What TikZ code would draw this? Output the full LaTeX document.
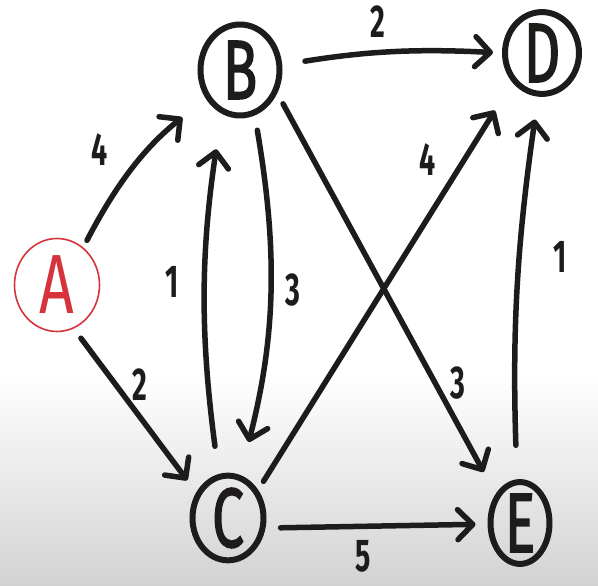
\documentclass[tikz,border=0pt]{standalone}
\usepackage{fontspec}
\usepackage{graphicx}
\setmainfont{Fira Sans}
\newfontfamily\letfont{Fira Sans}[FakeBold=2]
\newfontfamily\thinfont{Fira Sans}
\usetikzlibrary{shapes.geometric,arrows.meta}
\definecolor{ink}{HTML}{1E1B1B}
\definecolor{redink}{HTML}{D6333C}
\newcommand{\vlet}[1]{\letfont\fontsize{84}{84}\selectfont\scalebox{0.68}[1]{#1}}
\newcommand{\alet}[1]{\thinfont\fontsize{84}{84}\selectfont\scalebox{0.72}[1]{#1}}
\newcommand{\wlab}[1]{\fontsize{46}{46}\selectfont\bfseries\scalebox{0.62}[1]{#1}}
\begin{document}
\begin{tikzpicture}[x=1pt,y=1pt,
  vtx/.style={ellipse, draw=ink, text=ink, line width=6pt, inner sep=0pt},
  edge/.style={draw=ink, line width=5.5pt, line cap=round, line join=round,
    -{Straight Barb[length=15pt,width=30pt,round]}},
  wl/.style={text=ink, inner sep=0pt}]
\fill[white] (0,0) rectangle (598,586);
\shade[top color=white, bottom color=gray!35] (0,0) rectangle (598,210);
\useasboundingbox (0,0) rectangle (598,586);

\node[vtx, draw=redink, text=redink, line width=1.6pt, minimum width=85pt, minimum height=93pt] (A) at (57,301) {\alet{A}};
\node[vtx, minimum width=79pt, minimum height=91pt] (B) at (240,516) {\vlet{B}};
\node[vtx, minimum width=74pt, minimum height=76pt] (D) at (542,533) {\vlet{D}};
\node[vtx, minimum width=71pt, minimum height=83pt] (C) at (228,68) {\vlet{C}};
\node[vtx, minimum width=59pt, minimum height=80pt] (E) at (520,63) {\vlet{E}};

\draw[edge, shorten <=8pt, shorten >=30pt] (A.55) to[bend left=12] (B.220);
\draw[edge, shorten <=12pt, shorten >=15pt] (A.-69) -- (C.141);
\draw[edge, shorten <=23pt, shorten >=9pt] (B.7) to[bend left=6] (D.180);
\draw[edge, shorten <=28pt, shorten >=36pt] (C.102) to[bend left=8] (B.247);
\draw[edge, shorten <=15pt, shorten >=34pt] (B.288) to[bend left=12] (C.74);
\draw[edge, shorten <=12pt, shorten >=25pt] (B.-32) -- (E.130);
\draw[edge, shorten <=10pt, shorten >=33pt] (C.43) -- (D.225);
\draw[edge, shorten <=34pt, shorten >=23pt] (E.94) to[bend left=5] (D.265);
\draw[edge, shorten <=15pt, shorten >=12pt] (C.-15) -- (E.182);

\node[wl] (w1) at (100,436) {\wlab{4}};
\node[wl] (w2) at (140,201) {\wlab{2}};
\node[wl] (w3) at (378,564) {\wlab{2}};
\node[wl] (w4) at (172,304) {\wlab{1}};
\node[wl] (w5) at (293,296) {\wlab{3}};
\node[wl] (w6) at (458,203) {\wlab{3}};
\node[wl] (w7) at (428,426) {\wlab{4}};
\node[wl] (w8) at (560,329) {\wlab{1}};
\node[wl] (w9) at (363,30) {\wlab{5}};
\end{tikzpicture}
\end{document}
